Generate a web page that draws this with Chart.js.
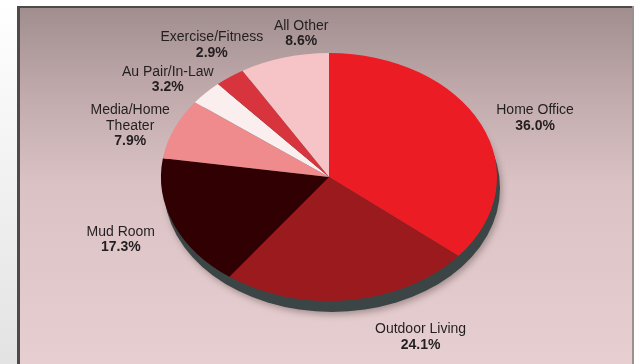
<!DOCTYPE html>
<html>
<head>
<meta charset="utf-8">
<script src="https://cdn.jsdelivr.net/npm/chart.js@4.4.0/dist/chart.umd.min.js"></script>
<style>
  html, body { margin: 0; padding: 0; background: #ffffff; }
  #myChart { display: block; }
</style>
</head>
<body>
<canvas id="myChart" width="641" height="364"></canvas>
<script>
// data (clockwise from 12 o'clock)
var categories = ['Home Office', 'Outdoor Living', 'Mud Room', ['Media/Home', 'Theater'], 'Au Pair/In-Law', 'Exercise/Fitness', 'All Other'];
var shares = [36.0, 24.1, 17.3, 7.9, 3.2, 2.9, 8.6];
var sliceColors = ['#ec1c24', '#9a1a1e', '#300002', '#ef8a8d', '#fbeeef', '#d8343d', '#f6c3c7'];

// label nudges from the slice edge, [dx, dy]
var labelShift = [[54, -6], [71, 37], [-53, 15], [-44, -3], [-38, -13], [-18, -32], [17, -24]];

// pie gets stretched sideways to look like the tilted original
var stretchX = 1.355;

function pieCenter(chart){
    var arc = chart.getDatasetMeta(0).data[0];
    return {x: arc.x, y: arc.y, r: arc.outerRadius};
}

var backgroundPlugin = {
    id: 'frameBg',
    beforeDraw: function(chart){
        var ctx = chart.ctx;
        ctx.save();
        // outside of the frame
        var side = ctx.createLinearGradient(0, 0, 0, 364);
        side.addColorStop(0, '#ffffff');
        side.addColorStop(1, '#e3e3e3');
        ctx.fillStyle = side;
        ctx.fillRect(0, 0, 641, 364);
        ctx.fillStyle = '#ffffff';
        ctx.fillRect(0, 0, 641, 6);
        ctx.fillRect(634, 0, 7, 364);

        // frame body
        var bg = ctx.createLinearGradient(0, 8, 0, 364);
        bg.addColorStop(0, '#a18e8f');
        bg.addColorStop(0.25, '#c2abad');
        bg.addColorStop(0.5, '#dbc3c5');
        bg.addColorStop(1, '#e7ced0');
        ctx.fillStyle = bg;
        ctx.fillRect(18, 7, 616, 357);

        // frame edges
        ctx.fillStyle = '#4f4a4a';
        ctx.fillRect(17, 6, 3, 358);
        ctx.fillRect(17, 6, 616, 2);
        ctx.fillStyle = '#9a9090';
        ctx.fillRect(632, 6, 2, 358);
        ctx.restore();
    }
};

var tiltPlugin = {
    id: 'tilt',
    beforeDatasetsDraw: function(chart){
        var ctx = chart.ctx;
        var c = pieCenter(chart);
        ctx.save();
        ctx.translate(c.x, c.y);
        ctx.scale(stretchX, 1);
        ctx.translate(-c.x, -c.y);
        // dark rim underneath the pie
        ctx.save();
        ctx.shadowColor = 'rgba(60,40,40,0.35)';
        ctx.shadowBlur = 6;
        ctx.shadowOffsetX = 2;
        ctx.shadowOffsetY = 3;
        ctx.fillStyle = '#3b4545';
        ctx.beginPath();
        ctx.arc(c.x + 3 / stretchX, c.y + 11, c.r, 0, Math.PI * 2);
        ctx.fill();
        ctx.restore();
    },
    afterDatasetsDraw: function(chart){
        chart.ctx.restore();
    }
};

var labelPlugin = {
    id: 'sliceLabels',
    afterDraw: function(chart){
        var ctx = chart.ctx;
        var arcs = chart.getDatasetMeta(0).data;
        ctx.save();
        ctx.fillStyle = '#231f20';
        ctx.textAlign = 'center';
        ctx.textBaseline = 'middle';
        for (var i = 0; i < arcs.length; i++){
            var a = arcs[i];
            var mid = (a.startAngle + a.endAngle) / 2;
            var x = a.x + Math.cos(mid) * a.outerRadius * stretchX + labelShift[i][0];
            var y = a.y + Math.sin(mid) * a.outerRadius + labelShift[i][1];
            var lines = [].concat(categories[i]);
            var lh = 15.5;
            var top = y - (lines.length * lh) / 2;
            ctx.font = '14px "Liberation Sans", Arial, sans-serif';
            for (var k = 0; k < lines.length; k++){
                ctx.fillText(lines[k], x, top + k * lh);
            }
            ctx.font = 'bold 14px "Liberation Sans", Arial, sans-serif';
            ctx.fillText(shares[i].toFixed(1) + '%', x, top + lines.length * lh);
        }
        ctx.restore();
    }
};

var config = {
    type: 'pie',
    data: {
        labels: categories,
        datasets: [{
            data: shares,
            backgroundColor: sliceColors,
            borderWidth: 0,
            hoverOffset: 0,
            clip: false
        }]
    },
    options: {
        responsive: false,
        animation: false,
        devicePixelRatio: 1,
        events: [],
        layout: {
            padding: {top: 53, bottom: 63, left: 205, right: 188}
        },
        plugins: {
            legend: {display: false},
            tooltip: {enabled: false}
        }
    },
    plugins: [backgroundPlugin, tiltPlugin, labelPlugin]
};

var myChart = new Chart(document.getElementById('myChart'), config);
</script>
</body>
</html>
